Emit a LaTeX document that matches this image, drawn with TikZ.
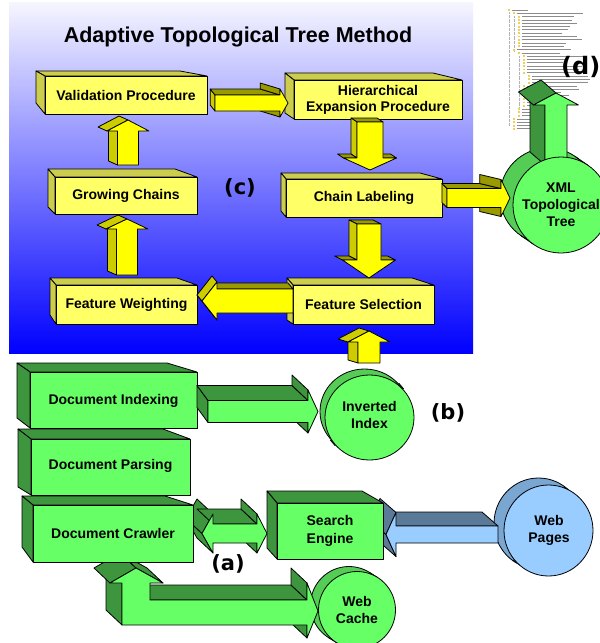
\documentclass[tikz,border=0pt]{standalone}
\usepackage{fontspec}
\setmainfont{Liberation Sans}
\newfontfamily\tagfont{DejaVu Sans}
\usetikzlibrary{calc}
\definecolor{yfront}{HTML}{FFFF66}
\definecolor{yside}{HTML}{CCCC4D}
\definecolor{yarrow}{HTML}{FFFF00}
\definecolor{yarside}{HTML}{CCCC00}
\definecolor{yartop}{HTML}{999900}
\definecolor{gfront}{HTML}{66FF66}
\definecolor{gside}{HTML}{3D963D}
\definecolor{gcyl}{HTML}{55CC55}
\definecolor{bfront}{HTML}{99CCFF}
\definecolor{bcyl}{HTML}{7AA6D2}
\definecolor{bartop}{HTML}{5B7A99}
\definecolor{bgtop}{RGB}{246,246,255}
\definecolor{bgbot}{RGB}{0,0,255}
\definecolor{folder}{RGB}{236,210,90}
\tikzset{
 ol/.style={draw=black,line width=0.8pt,line join=round},
 labtxt/.style={font=\bfseries\fontsize{14}{17}\selectfont,align=center,inner sep=0pt},
 tagtxt/.style={font=\tagfont\bfseries\fontsize{21}{24}\selectfont,inner sep=0pt},
}
% 3D box: front x1 y1 x2 y2, back x1 y1 x2 y2, family (y/g)
\newcommand\pcube[9]{%
 \filldraw[ol,fill=#9side] (#1,#2) -- (#5,#6) -- (#7,#6) -- (#3,#2) -- cycle;
 \filldraw[ol,fill=#9side] (#1,#2) -- (#5,#6) -- (#5,#8) -- (#1,#4) -- cycle;
 \filldraw[ol,fill=#9front] (#1,#2) rectangle (#3,#4);}
% arrow points: name, tail x, tail y, angle, length, head length, half body, half head, back map
\newcommand\defarrow[9]{%
 \begin{scope}[shift={(#2,#3)},rotate=#4]
  \coordinate (#1-1) at (0,-#7);
  \coordinate (#1-2) at (#5-#6,-#7);
  \coordinate (#1-3) at (#5-#6,-#8);
  \coordinate (#1-4) at (#5,0);
  \coordinate (#1-5) at (#5-#6,#8);
  \coordinate (#1-6) at (#5-#6,#7);
  \coordinate (#1-7) at (0,#7);
 \end{scope}
 \begin{scope}[cm={#9}]
 \begin{scope}[shift={(#2,#3)},rotate=#4]
  \coordinate (#1-b1) at (0,-#7);
  \coordinate (#1-b2) at (#5-#6,-#7);
  \coordinate (#1-b3) at (#5-#6,-#8);
  \coordinate (#1-b4) at (#5,0);
  \coordinate (#1-b5) at (#5-#6,#8);
  \coordinate (#1-b6) at (#5-#6,#7);
  \coordinate (#1-b7) at (0,#7);
 \end{scope}
 \end{scope}}
\newcommand\aface[4]{\filldraw[ol,fill=#4] (#1-#2) -- (#1-#3) -- (#1-b#3) -- (#1-b#2) -- cycle;}
\newcommand\afront[2]{\filldraw[ol,fill=#2] (#1-1) -- (#1-2) -- (#1-3) -- (#1-4) -- (#1-5) -- (#1-6) -- (#1-7) -- cycle;}
% cylinder: name cx cy rx ry dx dy colour
\newcommand\cylback[8]{%
 \coordinate (#1-f) at (#2,#3);
 \coordinate (#1-k) at ($(#2,#3)+(#6,#7)$);
 \fill[#8] ($(#1-f)!#4pt!90:(#1-k)$) -- ($(#1-k)!#4pt!-90:(#1-f)$) -- ($(#1-k)!#4pt!90:(#1-f)$) -- ($(#1-f)!#4pt!-90:(#1-k)$) -- cycle;
 \filldraw[ol,fill=#8] (#1-k) ellipse[x radius=#4pt,y radius=#5pt];
 \draw[ol] ($(#1-f)!#4pt!90:(#1-k)$) -- ($(#1-k)!#4pt!-90:(#1-f)$);
 \draw[ol] ($(#1-k)!#4pt!90:(#1-f)$) -- ($(#1-f)!#4pt!-90:(#1-k)$);}
\newcommand\cylfront[4]{\filldraw[ol,fill=#4] (#1-f) ellipse[x radius=#2pt,y radius=#3pt];}

\begin{document}
\begin{tikzpicture}[x=1pt,y=-1pt]
\useasboundingbox (0,0) rectangle (600,643);
\clip (0,0) rectangle (600,643);
\fill[white] (0,0) rectangle (600,643);
% background panel
\shade[top color=bgtop,bottom color=bgbot] (9,2) rectangle (473,353);
\node[font=\bfseries\fontsize{21.5}{24}\selectfont,inner sep=0pt] (title) at (238,37) {Adaptive Topological Tree Method};

% screenshot (d)
\draw[black!30,densely dotted,line width=0.3pt] (509.5,12) -- (509.5,126);
\draw[black!30,densely dotted,line width=0.3pt] (514.5,16) -- (514.5,52);
\draw[black!30,densely dotted,line width=0.3pt] (519.5,56) -- (519.5,112);
\foreach \lv/\len [count=\r from 0] in {0/16,1/66,2/52,2/50,2/55,2/48,2/46,2/40,2/55,2/60,2/44,2/42,1/54,2/38,3/58,3/40,3/36,3/55,3/52,3/58,4/56,4/58,4/56,3/50,3/52,3/34,3/42,3/22,3/26,3/18,2/20,2/24,2/20,1/30,1/26,1/22,1/26}{
 \pgfmathsetmacro\yy{10+3.3*\r}
 \pgfmathsetmacro\xx{508+5*\lv}
 \fill[folder] (\xx,\yy-0.9) rectangle ++(2.4,1.9);
 \draw[black!45,line width=0.7pt] (\xx+3.8,\yy) -- ++(\len,0);
}

% yellow boxes
\pcube{45}{76}{207}{114}{36}{71}{180}{103}{y}
\pcube{294}{80}{462}{119}{285}{73}{433}{113}{y}
\pcube{286}{179}{442}{217}{281}{173}{420}{211}{y}
\pcube{293}{285}{434}{324}{287}{278}{412}{320}{y}
\pcube{56}{285}{197}{324}{50}{278}{177}{315}{y}
\pcube{55}{177}{197}{214}{48}{169}{175}{207}{y}
\node[labtxt] (valid) at (126,95) {Validation Procedure};
\node[labtxt,font=\bfseries\fontsize{14}{16}\selectfont] (hier) at (378,100) {Hierarchical\\Expansion Procedure};
\node[labtxt] (chain) at (364,198) {Chain Labeling};
\node[labtxt] (fsel) at (363.5,304.5) {Feature Selection};
\node[labtxt] (fweight) at (126.5,304.5) {Feature Weighting};
\node[labtxt] (grow) at (126,195.5) {Growing Chains};

% yellow arrows
\defarrow{y1}{215}{103}{0}{73}{8}{8}{14}{0.77,0,0,1,(44.6,-6)}
\aface{y1}{5}{6}{yartop}\aface{y1}{7}{1}{yarside}\aface{y1}{1}{2}{yartop}\aface{y1}{2}{3}{yartop}
\afront{y1}{yarrow}
\defarrow{y2}{370}{122}{-90}{48}{12}{13}{26.5}{1,0,0,1,(-6,-4)}
\aface{y2}{2}{3}{yartop}\aface{y2}{7}{1}{yartop}\aface{y2}{6}{7}{yarside}\aface{y2}{5}{6}{yartop}
\afront{y2}{yarrow}
\defarrow{y3}{369}{224}{-90}{54}{18}{12}{26.5}{1,0,0,1,(-8,-4)}
\aface{y3}{2}{3}{yartop}\aface{y3}{7}{1}{yartop}\aface{y3}{6}{7}{yarside}\aface{y3}{5}{6}{yartop}
\afront{y3}{yarrow}
\defarrow{y4}{293}{301}{180}{91}{15}{12}{19}{1,0,0,1,(-5,-6)}
\aface{y4}{3}{4}{yarside}\aface{y4}{6}{7}{yartop}\aface{y4}{4}{5}{yarside}
\afront{y4}{yarrow}
\defarrow{y5}{127}{275}{90}{56}{10}{10.5}{21}{1,0,0,1,(-9,-4)}
\aface{y5}{1}{2}{yarside}\aface{y5}{3}{4}{yarside}
\afront{y5}{yarrow}
\defarrow{y6}{128}{165}{90}{45}{11}{10.5}{21}{1,0,0,1,(-9,-4)}
\aface{y6}{1}{2}{yarside}\aface{y6}{3}{4}{yarside}
\afront{y6}{yarrow}
\defarrow{y7}{369}{363}{90}{32}{11}{11}{21}{1,0,0,1,(-10,-3)}
\aface{y7}{1}{2}{yarside}\aface{y7}{3}{4}{yarside}
\afront{y7}{yarrow}

% XML topological tree
\cylback{xml}{561}{205}{48}{48}{-13}{-9}{gcyl}
\defarrow{y8}{447}{198}{0}{63}{9}{9.5}{18.5}{0.7,0,0,1,(129,-5)}
\aface{y8}{5}{6}{yartop}\aface{y8}{7}{1}{yarside}\aface{y8}{1}{2}{yartop}\aface{y8}{2}{3}{yartop}
\afront{y8}{yarrow}
\defarrow{dg}{556}{165}{90}{72}{12}{11}{22.5}{1,0,0,1,(-15,-13)}
\aface{dg}{1}{2}{gside}\aface{dg}{3}{4}{gside}
\afront{dg}{gfront}
\cylfront{xml}{48}{48}{gfront}
\node[labtxt] (xmltxt) at (561,205) {XML\\Topological\\Tree};
\node[tagtxt,font=\tagfont\bfseries\fontsize{24}{27}\selectfont,anchor=west] (d) at (561,67) {(d)};

% green boxes
\pcube{30}{372}{197}{428}{17}{363}{167}{418}{g}
\pcube{31}{439}{190}{495}{18}{429}{163}{487}{g}
\node[labtxt] (dindex) at (113.5,400.5) {Document Indexing};
\node[labtxt] (dparse) at (110.5,466) {Document Parsing};

% inverted index
\cylback{inv}{369.5}{417.5}{44.5}{42.5}{-5}{-6}{gcyl}
\defarrow{ga1}{208}{411.5}{0}{110}{10}{11}{21.5}{0.95,0,0,1,(-0.6,-15)}
\aface{ga1}{5}{6}{gside}\aface{ga1}{7}{1}{gside}\aface{ga1}{1}{2}{gside}\aface{ga1}{2}{3}{gside}
\afront{ga1}{gfront}
\cylfront{inv}{44.5}{42.5}{gfront}
\node[labtxt] (invtxt) at (369.5,415) {Inverted\\Index};

% web cache and crawler arrows
\cylback{cache}{357}{610}{38.5}{38.5}{-8}{-5}{gcyl}
\foreach \i/\x/\y in {1/122/625,2/122/583,3/110/583,4/136/568,5/163/583,6/150/583,7/150/600,8/307/600,9/307/583,10/318/611,11/307/638,12/307/625}{
 \coordinate (ga3-\i) at (\x,\y); \coordinate (ga3-b\i) at (\x-16,\y-15);}
\aface{ga3}{11}{12}{gside}\aface{ga3}{1}{2}{gside}\aface{ga3}{7}{8}{gside}\aface{ga3}{8}{9}{gside}\aface{ga3}{3}{4}{gside}\aface{ga3}{4}{5}{gside}
\filldraw[ol,fill=gfront] (ga3-1) -- (ga3-2) -- (ga3-3) -- (ga3-4) -- (ga3-5) -- (ga3-6) -- (ga3-7) -- (ga3-8) -- (ga3-9) -- (ga3-10) -- (ga3-11) -- (ga3-12) -- cycle;
\cylfront{cache}{38.5}{38.5}{gfront}
\node[labtxt] (cachetxt) at (357,610) {Web\\Cache};

\foreach \i/\x/\y in {1/202/533.5,2/213/514,3/213/524,4/257/524,5/257/514,6/267/533.5,7/257/553,8/257/543,9/213/543,10/213/553}{
 \coordinate (ga2-\i) at (\x,\y); \coordinate (ga2-b\i) at (\x-16,\y-15);}
\aface{ga2}{7}{8}{gside}\aface{ga2}{10}{1}{gside}\aface{ga2}{1}{2}{gside}\aface{ga2}{3}{4}{gside}\aface{ga2}{4}{5}{gside}
\filldraw[ol,fill=gfront] (ga2-1) -- (ga2-2) -- (ga2-3) -- (ga2-4) -- (ga2-5) -- (ga2-6) -- (ga2-7) -- (ga2-8) -- (ga2-9) -- (ga2-10) -- cycle;

\pcube{33}{505}{193}{562}{22}{496}{165}{547}{g}
\node[labtxt] (dcrawl) at (113,533.5) {Document Crawler};

% web pages
\cylback{web}{548.5}{530.5}{44.5}{45.5}{-10}{-7}{bcyl}
\defarrow{ga4}{498}{534.5}{180}{112}{10}{8.5}{22}{1,0,0,1,(-16,-14)}
\aface{ga4}{3}{4}{bartop}\aface{ga4}{6}{7}{bartop}\aface{ga4}{4}{5}{bartop}
\afront{ga4}{bfront}
\cylfront{web}{44.5}{45.5}{bfront}
\node[labtxt] (webtxt) at (549,530.5) {Web\\Pages};

\pcube{277}{503}{383}{559}{267}{491}{362}{548}{g}
\node[labtxt,font=\bfseries\fontsize{14}{18}\selectfont] (search) at (330,531) {Search\\Engine};

% tags
\node[tagtxt] (c) at (240,188) {(c)};
\node[tagtxt] (b) at (448,413) {(b)};
\node[tagtxt] (a) at (228,564) {(a)};
\end{tikzpicture}
\end{document}
